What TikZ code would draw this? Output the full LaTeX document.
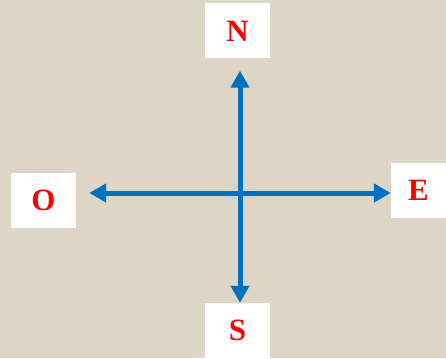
\documentclass[tikz,border=0pt]{standalone}
\usepackage{fontspec}
\setmainfont{Liberation Serif}
\usetikzlibrary{arrows.meta,positioning}
\definecolor{paper}{RGB}{221,213,198}
\definecolor{axisblue}{RGB}{0,112,192}
\definecolor{letterred}{RGB}{255,0,0}

\begin{document}
\begin{tikzpicture}[x=1pt,y=-1pt,>=Stealth,
    dirbox/.style={fill=white,draw=none,minimum width=65pt,minimum height=55pt,
      inner sep=0pt,text=letterred,font=\fontsize{31}{31}\selectfont\bfseries},
    axis/.style={axisblue,line width=5pt,-{Triangle[width=18pt,length=17pt]}}]
  % ---------------- background ------------------------------------------
  \fill[paper] (0,0) rectangle (446,358);
  \useasboundingbox (0,0) rectangle (446,358);
  % ---------------- the four direction boxes ----------------------------
  \coordinate (c) at (240,193);
  \node[dirbox] (n) at (237.5,31) {N};
  \node[dirbox] (s) at (237.5,330.5) {S};
  \node[dirbox] (o) at (43.5,200.5) {O};
  \node[dirbox,minimum width=55pt] (e) at (418.5,190.5) {E};
  % ---------------- the cross -------------------------------------------
  \draw[axis,shorten >=12pt] (c) -- (c |- n.south);
  \draw[axis] (c) -- (c |- s.north);
  \draw[axis,shorten >=13pt] (c) -- (c -| o.east);
  \draw[axis] (c) -- (c -| e.west);
\end{tikzpicture}
\end{document}
